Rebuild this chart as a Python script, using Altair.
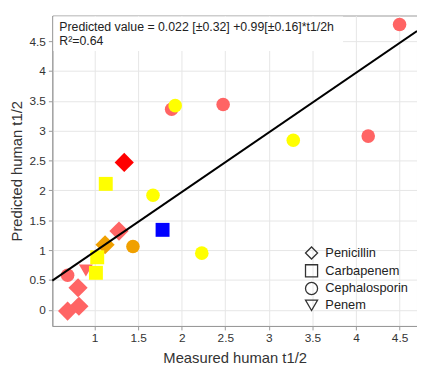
import altair as alt
import pandas as pd

# Data
mx = [4.50, 4.14, 2.475, 1.884, 0.69, 1.925, 3.28, 1.67, 2.23, 1.44, 1.128, 1.78, 1.03, 1.015, 1.34, 1.28, 1.12, 0.81, 0.82, 0.69, 0.90]
py = [4.78, 2.91, 3.44, 3.36, 0.58, 3.42, 2.84, 1.92, 0.95, 1.06, 2.11, 1.34, 0.88, 0.62, 2.47, 1.32, 1.09, 0.37, 0.06, -0.02, 0.66]
cls = ["Cephalosporin", "Cephalosporin", "Cephalosporin", "Cephalosporin", "Cephalosporin",
       "Cephalosporin", "Cephalosporin", "Cephalosporin", "Cephalosporin", "Cephalosporin",
       "Carbapenem", "Carbapenem", "Carbapenem", "Carbapenem",
       "Penicillin", "Penicillin", "Penicillin", "Penicillin", "Penicillin", "Penicillin",
       "Penem"]
col = ["#FF6464", "#FF6464", "#FF6464", "#FF6464", "#FF6464",
       "#FFFF00", "#FFFF00", "#FFFF00", "#FFFF00", "#F0A000",
       "#FFFF00", "#0000FF", "#FFFF00", "#FFFF00",
       "#FF0000", "#FF6464", "#F0A000", "#FF6464", "#FF6464", "#FF6464",
       "#FF6464"]
categories = ["Penicillin", "Carbapenem", "Cephalosporin", "Penem"]
shapes = ["diamond", "square", "circle", "triangle-down"]

# regression line end points (as drawn in the reference)
line_x = [0.515, 4.70]
line_y = [0.49, 4.67]
x_dom = [0.515, 4.70]
y_dom = [-0.27, 4.93]
x_ticks = [1, 1.5, 2, 2.5, 3, 3.5, 4, 4.5]
y_ticks = [0, 0.5, 1, 1.5, 2, 2.5, 3, 3.5, 4, 4.5]

eq_text = "Predicted value = 0.022 [±0.32] +0.99[±0.16]*t1/2h\nR²=0.64"

df = pd.DataFrame({"x": mx, "y": py, "cls": cls, "col": col})
df["idx"] = range(len(df))
line_df = pd.DataFrame({"x": line_x, "y": line_y})

FONT = "Liberation Sans"
xs = alt.Scale(domain=x_dom, nice=False, zero=False)
ys = alt.Scale(domain=y_dom, nice=False, zero=False)
shape_scale = alt.Scale(domain=categories, range=shapes)

xaxis = alt.Axis(values=x_ticks, format="~g", title="Measured human t1/2", grid=True,
                 tickSize=4, labelPadding=3, titlePadding=7, labelFontSize=12, titleFontSize=15,
                 labelFont=FONT, titleFont=FONT, labelColor="#333", titleColor="#333",
                 titleFontWeight="normal", gridColor="#E6E6E6", domainColor="#999", tickColor="#999")
yaxis = alt.Axis(values=y_ticks, format="~g", title="Predicted human t1/2", grid=True,
                 tickSize=4, labelPadding=3, titlePadding=5, labelFontSize=12, titleFontSize=15,
                 labelFont=FONT, titleFont=FONT, labelColor="#333", titleColor="#333",
                 titleFontWeight="normal", gridColor="#E6E6E6", domainColor="#999", tickColor="#999")

legend = alt.Legend(title=None, orient="none", legendX=256, legendY=234,
                    symbolFillColor="transparent", symbolStrokeColor="#333", symbolStrokeWidth=1.3,
                    symbolSize=150, labelFontSize=13, labelFont=FONT, labelColor="#222",
                    rowPadding=0, labelOffset=7)

base = alt.Chart(df).transform_calculate(
    sz="datum.cls == 'Penicillin' ? 380 : (datum.cls == 'Cephalosporin' ? 190 : 200)",
    z="(datum.cls == 'Cephalosporin' ? 0 : datum.cls == 'Penicillin' ? 100 : datum.cls == 'Penem' ? 200 : 300) + datum.idx",
)

axes = base.mark_point(opacity=0).encode(
    x=alt.X("x:Q", scale=xs, axis=xaxis),
    y=alt.Y("y:Q", scale=ys, axis=yaxis),
)
box = alt.Chart(pd.DataFrame({"a": [0]})).mark_rect(fill="white").encode(
    x=alt.value(1), x2=alt.value(295), y=alt.value(1), y2=alt.value(36))

pts = base.mark_point(filled=True, opacity=1, strokeWidth=0.8).encode(
    x=alt.X("x:Q", scale=xs, axis=xaxis),
    y=alt.Y("y:Q", scale=ys, axis=yaxis),
    shape=alt.Shape("cls:N", scale=shape_scale, legend=legend),
    color=alt.Color("col:N", scale=None),
    size=alt.Size("sz:Q", scale=None),
    order="z:Q",
)

line = alt.Chart(line_df).mark_line(color="black", strokeWidth=2).encode(
    x=alt.X("x:Q", scale=xs, axis=xaxis), y=alt.Y("y:Q", scale=ys, axis=yaxis))

txt = alt.Chart(pd.DataFrame({"t": [eq_text]})).mark_text(
    align="left", baseline="middle", font=FONT, fontSize=12.5, color="#222",
    lineBreak="\n", lineHeight=14).encode(
    x=alt.value(7), y=alt.value(12), text="t:N")

chart = alt.layer(axes, box, pts, line, txt).properties(
    width=370, height=315,
    autosize=alt.AutoSizeParams(type="none"),
    padding={"left": 45, "top": 5, "right": 0, "bottom": 38},
).configure_view(stroke="#999", strokeWidth=1)

chart.save("out.html", embed_options={"renderer": "svg", "actions": False})
